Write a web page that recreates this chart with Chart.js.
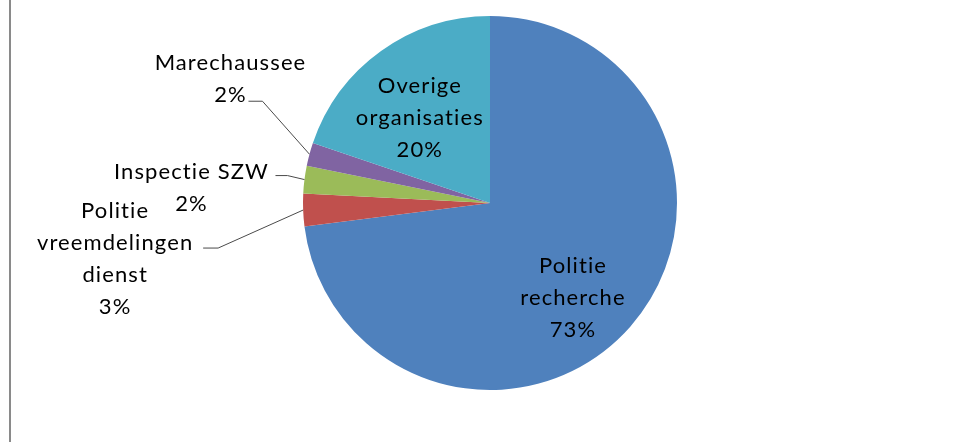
<!DOCTYPE html>
<html>
<head>
<meta charset="utf-8">
<script src="https://cdn.jsdelivr.net/npm/chart.js@4/dist/chart.umd.min.js"></script>
<style>
html,body{margin:0;padding:0;background:#fff;}
#wrap{width:957px;height:442px;position:relative;}
</style>
</head>
<body>
<div id="wrap"><canvas id="c" width="957" height="442"></canvas></div>
<script>
// ---- data ----
const categories = ["Politie\nrecherche", "Politie\nvreemdelingen\ndienst", "Inspectie SZW", "Marechaussee", "Overige\norganisaties"];
const shares = [73.0, 2.8, 2.4, 2.0, 19.8];
const colors = ["#4F81BD", "#C0504D", "#9BBB59", "#8064A2", "#4BACC6"];

// ---- label placement (style, not data) ----
const placement = [
  {type: "in", k: 0.62, dx: -4, dy: 17},
  {type: "out", ex: -85, ey: 38, run: 15, tx: -88, ty: -30},
  {type: "out", ex: -17, ey: -4, run: 12, tx: -84, ty: 3},
  {type: "out", ex: -47, ey: -53, run: 14, tx: -18, ty: -31},
  {type: "in", k: 0.58, dx: -7, dy: 2}
];
const FONT = '22px Lato';
const LINE_H = 32;

const labelPlugin = {
  id: 'excelLabels',
  beforeDraw(chart) {
    const ctx = chart.ctx;
    ctx.save();
    ctx.fillStyle = '#8a8a8a';
    ctx.fillRect(9, 0, 2, chart.height);
    ctx.restore();
  },
  afterDatasetsDraw(chart) {
    const ctx = chart.ctx;
    const meta = chart.getDatasetMeta(0);
    const total = shares.reduce((a, b) => a + b, 0);
    ctx.save();
    ctx.font = FONT;
    if ('letterSpacing' in ctx) ctx.letterSpacing = '1.1px';
    ctx.fillStyle = '#000';
    ctx.textAlign = 'center';
    ctx.textBaseline = 'alphabetic';
    meta.data.forEach((arc, i) => {
      const p = arc.getProps(['x', 'y', 'startAngle', 'endAngle', 'outerRadius'], true);
      const mid = (p.startAngle + p.endAngle) / 2;
      const pct = Math.round(shares[i] / total * 100) + '%';
      const lines = categories[i].split('\n').concat([pct]);
      const pl = placement[i];
      if (pl.type === 'in') {
        const cx = p.x + Math.cos(mid) * p.outerRadius * pl.k + pl.dx;
        const cy = p.y + Math.sin(mid) * p.outerRadius * pl.k + pl.dy;
        const first = cy - (lines.length - 1) * LINE_H / 2 + 8;
        lines.forEach((t, j) => ctx.fillText(t, cx, first + j * LINE_H));
      } else {
        const sx = p.x + Math.cos(mid) * p.outerRadius;
        const sy = p.y + Math.sin(mid) * p.outerRadius;
        const bx = sx + pl.ex, by = sy + pl.ey;
        const hx = bx - pl.run;
        ctx.save();
        ctx.strokeStyle = '#4a4a4a';
        ctx.lineWidth = 1;
        ctx.beginPath();
        ctx.moveTo(sx, sy);
        ctx.lineTo(bx, by);
        ctx.lineTo(hx, by);
        ctx.stroke();
        ctx.restore();
        const tx = hx + pl.tx, ty = by + pl.ty;
        lines.forEach((t, j) => ctx.fillText(t, tx, ty + j * LINE_H));
      }
    });
    ctx.restore();
  }
};

function draw() {
  new Chart(document.getElementById('c'), {
    type: 'pie',
    data: {
      labels: categories.map(c => c.replace(/\n/g, ' ')),
      datasets: [{
        data: shares,
        backgroundColor: colors,
        borderWidth: 0
      }]
    },
    options: {
      responsive: false,
      animation: false,
      layout: {padding: {top: 16, bottom: 52, left: 23, right: 0}},
      plugins: {legend: {display: false}, tooltip: {enabled: false}}
    },
    plugins: [labelPlugin]
  });
}
if (document.fonts && document.fonts.load) {
  document.fonts.load(FONT).then(draw, draw);
} else draw();
</script>
</body>
</html>
